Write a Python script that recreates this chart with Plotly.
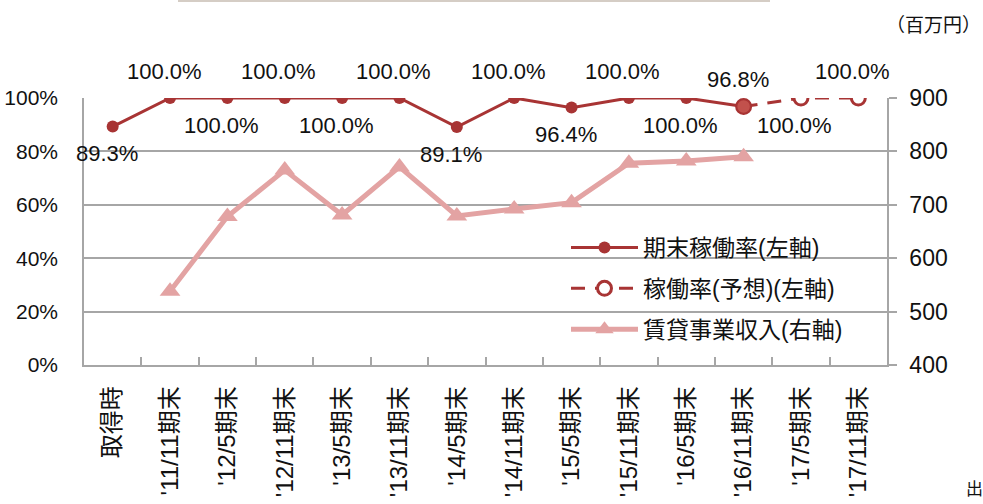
import plotly.graph_objects as go

# Periods (category axis)
periods = ["取得時", "'11/11期末", "'12/5期末", "'12/11期末", "'13/5期末", "'13/11期末",
           "'14/5期末", "'14/11期末", "'15/5期末", "'15/11期末", "'16/5期末", "'16/11期末",
           "'17/5期末", "'17/11期末"]

# End-of-period occupancy rate (%), actual
occ_periods = periods[:12]
occ_rate = [89.3, 100.0, 100.0, 100.0, 100.0, 100.0, 89.1, 100.0, 96.4, 100.0, 100.0, 96.8]

# Forecast occupancy (%), continuing from the last actual period
fc_periods = ["'16/11期末", "'17/5期末", "'17/11期末"]
fc_rate = [96.8, 100.0, 100.0]

# Rental revenue (million yen)
rev_periods = periods[1:12]
revenue = [538, 678, 765, 681, 771, 679, 692, 704, 778, 782, 790]

# Axis ticks
rate_ticks = [0, 20, 40, 60, 80, 100]
rate_ticktext = ["0%", "20%", "40%", "60%", "80%", "100%"]
rev_ticks = [400, 500, 600, 700, 800, 900]

# Label placement for the rate values: above (+1) or below (-1) the point
occ_label_side = [-1, 1, -1, 1, -1, 1, -1, 1, -1, 1, -1, 1]
fc_label_side = [0, -1, 1]

FONT = "Liberation Sans, Arial, Noto Sans CJK JP"
W, H = 983, 504
ML, MR, MT, MB = 84, 96, 98, 139
PW = W - ML - MR
PH = H - MT - MB

RATE_C = "#A83434"
FC_C = "#A83434"
JOIN_C = "#C2514C"
REV_C = "#E3A3A3"
GRID_C = "#A6A6A6"
TXT_C = "#111111"

fig = go.Figure()

fig.add_trace(go.Scatter(
    x=rev_periods, y=revenue, name="賃貸事業収入(右軸)", yaxis="y",
    mode="lines+markers", line=dict(color=REV_C, width=5),
    marker=dict(symbol="triangle-up", size=18, color=REV_C),
    legendgroup="c", legendrank=3,
))

fig.add_trace(go.Scatter(
    x=fc_periods, y=fc_rate, name="稼働率(予想)(左軸)", yaxis="y2",
    mode="lines+markers", line=dict(color=FC_C, width=3, dash="14px,10px"),
    marker=dict(symbol="circle", size=14, color="white", line=dict(color=FC_C, width=3)),
    legendgroup="b", legendrank=2,
))

fig.add_trace(go.Scatter(
    x=occ_periods, y=occ_rate, name="期末稼働率(左軸)", yaxis="y2",
    mode="lines+markers", line=dict(color=RATE_C, width=3),
    marker=dict(symbol="circle", size=12, color=RATE_C),
    legendgroup="a", legendrank=1,
))

# Junction point where the actual series hands over to the forecast
fig.add_trace(go.Scatter(
    x=fc_periods[:1], y=fc_rate[:1], yaxis="y2", mode="markers", showlegend=False,
    marker=dict(symbol="circle", size=14, color=JOIN_C, line=dict(color=RATE_C, width=1.5)),
    hoverinfo="skip",
))

annotations = []
for xs, ys, sides in ((occ_periods, occ_rate, occ_label_side), (fc_periods, fc_rate, fc_label_side)):
    for x, y, s in zip(xs, ys, sides):
        if s == 0:
            continue
        annotations.append(dict(
            x=x, y=y, xref="x", yref="y2", text=f"{y:.1f}%", showarrow=False,
            xshift=-6, yshift=27 * s, font=dict(family=FONT, size=22, color=TXT_C),
        ))

def px_x(px):
    return (px - ML) / PW

def px_y(py):
    return (H - MB - py) / PH

annotations.append(dict(
    x=px_x(983), y=px_y(25), xref="paper", yref="paper", xanchor="right", yanchor="middle",
    text="（百万円）", showarrow=False, font=dict(family=FONT, size=19, color=TXT_C),
))
annotations.append(dict(
    x=px_x(964), y=px_y(489), xref="paper", yref="paper", xanchor="left", yanchor="middle",
    text="出", showarrow=False, font=dict(family=FONT, size=17, color=TXT_C),
))

fig.update_layout(
    width=W, height=H,
    margin=dict(l=ML, r=MR, t=MT, b=MB, pad=0, autoexpand=False),
    paper_bgcolor="white", plot_bgcolor="white",
    font=dict(family=FONT, size=22, color=TXT_C),
    xaxis=dict(
        type="category", categoryorder="array", categoryarray=periods,
        range=[-0.5, len(periods) - 0.5], automargin=False,
        showline=True, linecolor=GRID_C, linewidth=1.5,
        ticks="inside", tickson="boundaries", ticklen=8, tickcolor=GRID_C, tickwidth=1.5,
        tickangle=-90, tickfont=dict(family=FONT, size=24, color=TXT_C),
        showgrid=False, zeroline=False, ticklabelstandoff=10,
    ),
    yaxis=dict(
        side="right", range=[400, 900], tickvals=rev_ticks, automargin=False,
        showgrid=True, gridcolor=GRID_C, gridwidth=1.5,
        showline=True, linecolor=GRID_C, linewidth=1.5,
        ticks="outside", ticklen=8, tickcolor=GRID_C, tickwidth=1.5,
        tickfont=dict(family=FONT, size=23, color=TXT_C),
        zeroline=False, ticklabelstandoff=8,
    ),
    yaxis2=dict(
        side="left", overlaying="y", range=[0, 100], automargin=False,
        tickmode="array", tickvals=rate_ticks, ticktext=rate_ticktext,
        showgrid=False, showline=True, linecolor=GRID_C, linewidth=1.5,
        ticks="", tickfont=dict(family=FONT, size=21, color=TXT_C),
        zeroline=False, ticklabelstandoff=20,
    ),
    legend=dict(
        x=px_x(566), y=px_y(226), xanchor="left", yanchor="top",
        bgcolor="rgba(0,0,0,0)", borderwidth=0,
        font=dict(family=FONT, size=23, color=TXT_C),
        itemwidth=67, tracegroupgap=8, traceorder="grouped",
    ),
    annotations=annotations,
    shapes=[dict(
        type="line", xref="paper", yref="paper",
        x0=px_x(178), x1=px_x(770), y0=px_y(1), y1=px_y(1),
        line=dict(color="#D5CDC5", width=2),
    )],
    showlegend=True,
)

fig.write_html("out.html")
